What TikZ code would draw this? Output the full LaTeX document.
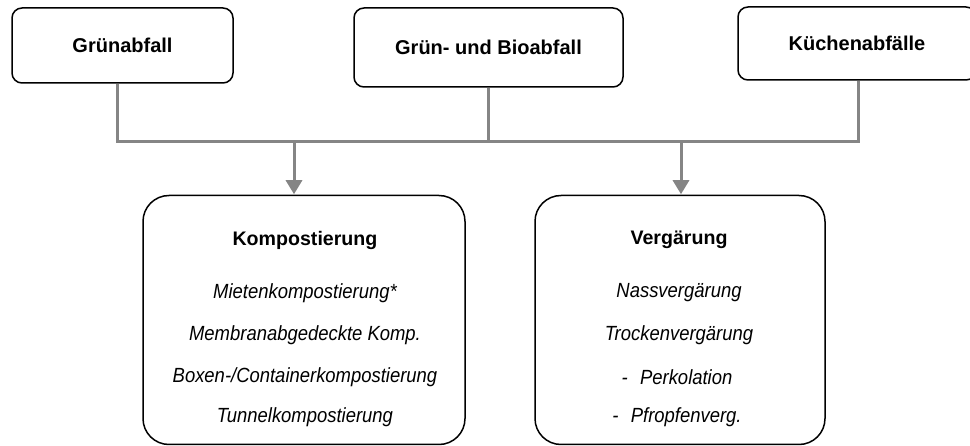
\documentclass[tikz,border=0pt]{standalone}
\usepackage{fontspec}
\setmainfont{Liberation Sans}
\newfontfamily\narrowsans{Liberation Sans}[FakeStretch=0.9]
\usetikzlibrary{arrows.meta}
\definecolor{busgray}{HTML}{858585}
\tikzset{
  x=1pt, y=-1pt,
  srcbox/.style={draw=black, line width=1.5pt, rounded corners=10pt, inner sep=0pt,
    font=\fontsize{20}{24}\selectfont\bfseries},
  procbox/.style={draw=black, line width=1.5pt, rounded corners=26pt, inner sep=0pt},
  title/.style={font=\fontsize{19.6}{24}\selectfont\bfseries, inner sep=0pt},
  item/.style={font=\narrowsans\fontsize{20.5}{24}\selectfont\itshape, inner sep=0pt},
  bus/.style={draw=busgray, line width=3pt},
  feed/.style={bus, -{Triangle[width=16pt,length=14pt]}, shorten >=0.5pt},
}
\begin{document}
\begin{tikzpicture}
\useasboundingbox (0,0) rectangle (970,446);

% source boxes
\node[srcbox, minimum width=221pt, minimum height=75pt] (gruen) at (122.5,45.5) {Grünabfall};
\node[srcbox, minimum width=269pt, minimum height=79pt] (bio) at (488.5,47.5) {Grün- und Bioabfall};
\node[srcbox, minimum width=238pt, minimum height=73pt] (kueche) at (857,43.5) {Küchenabfälle};

% process boxes
\node[procbox, minimum width=322pt, minimum height=249pt] (kompost) at (304,320) {};
\node[procbox, minimum width=290pt, minimum height=249pt] (verg) at (680,320) {};

% collecting bus
\coordinate (busL) at (117,142);
\coordinate (busR) at (858,142);
\coordinate (tapK) at (294,142);
\coordinate (tapV) at (681,142);
\draw[bus] (busL |- gruen.south) -- (busL) -- (busR) -- (busR |- kueche.south);
\draw[bus] (bio.south) -- (bio.south |- busL);
\draw[feed] (tapK) -- (tapK |- kompost.north);
\draw[feed] (tapV) -- (tapV |- verg.north);

% composting
\node[title] (kt) at (305,240) {Kompostierung};
\node[item] (k1) at (305,293) {Mietenkompostierung*};
\node[item] (k2) at (305,335) {Membranabgedeckte Komp.};
\node[item] (k3) at (305,377) {Boxen-/Containerkompostierung};
\node[item] (k4) at (305,417) {Tunnelkompostierung};

% digestion
\node[title] (vt) at (679,240) {Vergärung};
\node[item] (v1) at (679,293) {Nassvergärung};
\node[item] (v2) at (679,335) {Trockenvergärung};
\node[item] (v3) at (677,377) {-\hspace{0.6em}Perkolation};
\node[item] (v4) at (677,417) {-\hspace{0.6em}Pfropfenverg.};
\end{tikzpicture}
\end{document}
